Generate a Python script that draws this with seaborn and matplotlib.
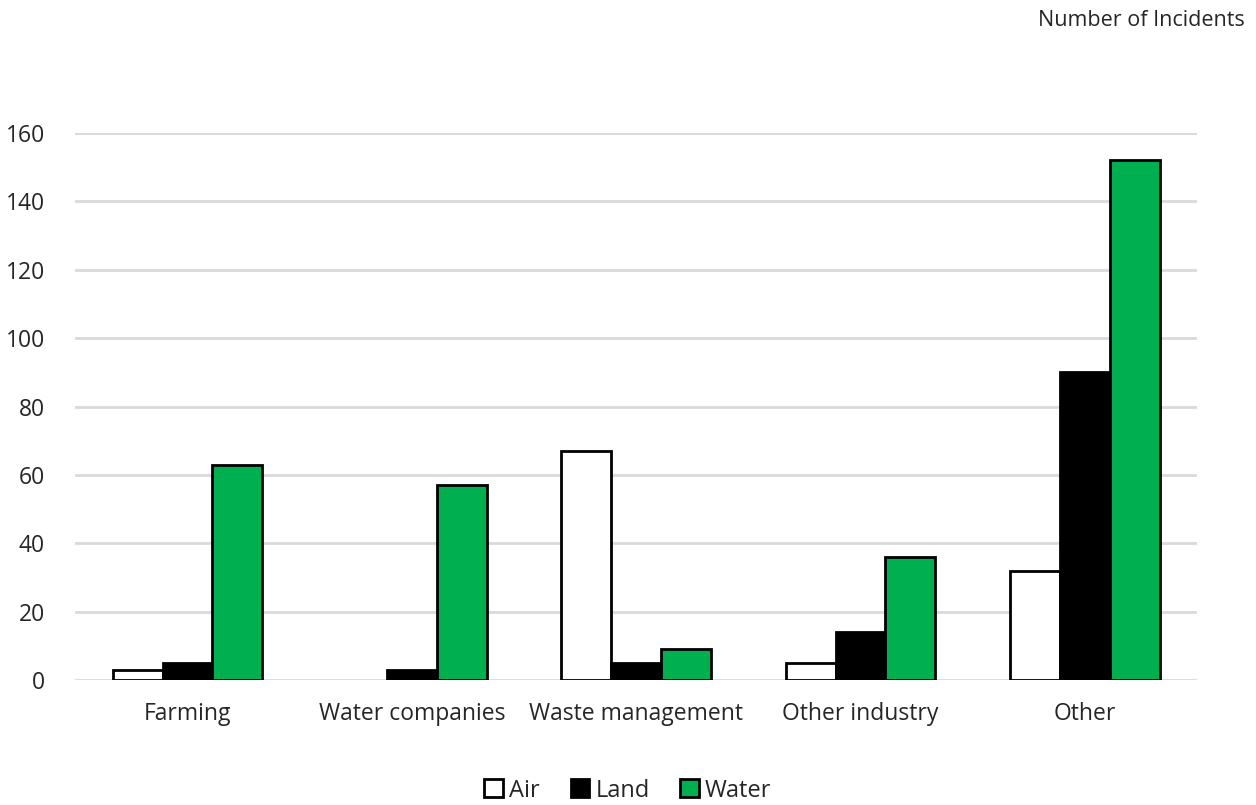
import pandas as pd
import seaborn as sns
import matplotlib.pyplot as plt
from matplotlib.patches import Patch

# Dados
sectors = ["Farming", "Water companies", "Waste management", "Other industry", "Other"]
air = [3, 0, 67, 5, 32]
land = [5, 3, 5, 14, 90]
water = [63, 57, 9, 36, 152]
media = ["Air", "Land", "Water"]
cores = {"Air": "white", "Land": "black", "Water": "#00B050"}

df = pd.DataFrame({
    "sector": sectors * 3,
    "medium": ["Air"] * 5 + ["Land"] * 5 + ["Water"] * 5,
    "incidents": air + land + water,
})

sns.set_style("white")
plt.rcParams["font.family"] = ["Open Sans", "DejaVu Sans"]

fig = plt.figure(figsize=(12.56, 8.05), dpi=100)
ax = fig.add_axes([0.06, 0.155, 0.893, 0.68])

sns.barplot(data=df, x="sector", y="incidents", hue="medium", order=sectors,
            hue_order=media, palette=cores, width=0.667, edgecolor="black",
            linewidth=2, saturation=1, ax=ax, legend=False)

# barras com valor zero não aparecem
for p in ax.patches:
    if p.get_height() == 0:
        p.set_linewidth(0)

ax.set_ylim(0, 160)
ax.set_xlim(-0.5, 4.5)
ax.set_yticks(range(0, 161, 20))
ax.yaxis.grid(True, color="#D9D9D9", linewidth=2)
ax.set_axisbelow(True)
for s in ax.spines.values():
    s.set_visible(False)
ax.tick_params(axis="both", length=0, labelsize=16.5, colors="#262626")
ax.tick_params(axis="x", pad=16)
ax.tick_params(axis="y", pad=22)
ax.set_xlabel("")
ax.set_ylabel("")

fig.text(0.991, 0.975, "Number of Incidents", ha="right", va="center",
         fontsize=15.5, color="#262626")

handles = [Patch(facecolor=cores[m], edgecolor="black", linewidth=2, label=m) for m in media]
fig.legend(handles=handles, loc="center", bbox_to_anchor=(0.5, 0.018), ncol=3,
           frameon=False, fontsize=17, handlelength=0.8, handleheight=0.8,
           handletextpad=0.25, columnspacing=1.3)

plt.savefig("out.png", dpi=100)
